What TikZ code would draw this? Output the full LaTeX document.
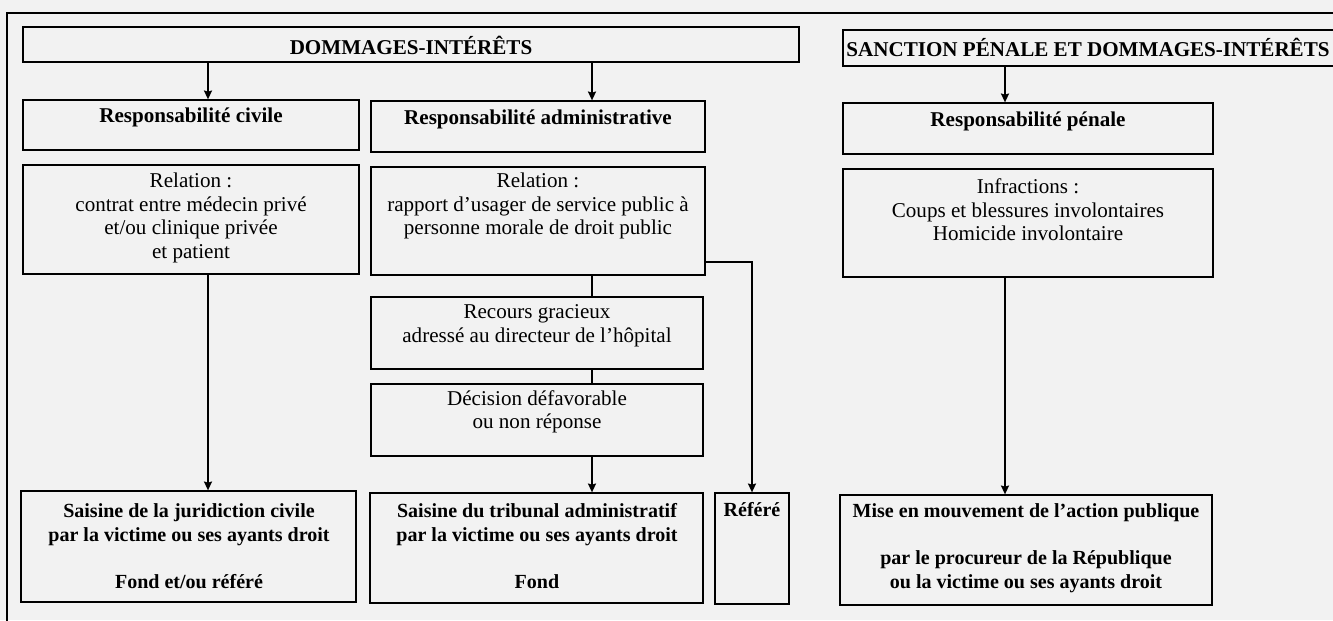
\documentclass[tikz,border=0pt]{standalone}
\usepackage{fontspec}
\setmainfont{Liberation Serif}
\usetikzlibrary{fit,arrows.meta}

\begin{document}
\begin{tikzpicture}[x=0.02cm, y=-0.02cm,
        box/.style={draw, line width=0.7pt, inner sep=0pt},
        txt/.style={align=center, inner sep=0pt, font=\fontsize{12}{13.4}\selectfont},
        head/.style={txt, font=\fontsize{12}{13.4}\selectfont\bfseries},
        seize/.style={txt, font=\fontsize{11.4}{13.4}\selectfont\bfseries},
        arr/.style={line width=1.3pt, -{Stealth[length=5pt, width=4.5pt, inset=0.6pt]}},
        link/.style={line width=0.9pt}]
        \useasboundingbox (0, 0) rectangle (1333, 620);
        \clip (0, 0) rectangle (1333, 620);
        \fill [black!5] (0, 0) rectangle (1333, 620);
        \draw [line width=0.7pt] (7, 640) -- (7, 13) -- (1350, 13);

        \node [box, fit={(23, 27) (799, 62)}] (dom) {};
        \node [box, fit={(843, 30) (1350, 66)}] (san) {};
        \node [box, fit={(23, 100) (359, 150)}] (civ) {};
        \node [box, fit={(371, 101) (705, 152)}] (adm) {};
        \node [box, fit={(843, 103) (1213, 154)}] (pen) {};
        \node [box, fit={(23, 165) (359, 274)}] (civrel) {};
        \node [box, fit={(371, 167) (705, 275)}] (admrel) {};
        \node [box, fit={(843, 169) (1213, 277)}] (infr) {};
        \node [box, fit={(371, 297) (703, 369)}] (recours) {};
        \node [box, fit={(371, 384) (703, 456)}] (decision) {};
        \node [box, fit={(21, 491) (356, 602)}] (saiciv) {};
        \node [box, fit={(370, 493) (703, 603)}] (saiadm) {};
        \node [box, fit={(715, 493) (789, 604)}] (refere) {};
        \node [box, fit={(840, 495) (1212, 605)}] (action) {};

        \node [head] (domtxt) at (411, 45) {DOMMAGES-INTÉRÊTS};
        \node [head] (santxt) at (1088, 47) {SANCTION PÉNALE ET DOMMAGES-INTÉRÊTS};
        \node [head] (civtxt) at (191, 117) {Responsabilité civile};
        \node [head] (admtxt) at (538, 119) {Responsabilité administrative};
        \node [head] (pentxt) at (1028, 121) {Responsabilité pénale};
        \node [txt] (civreltxt) at (191, 218) {Relation :\\contrat entre médecin privé\\et/ou clinique privée\\et patient};
        \node [txt] (admreltxt) at (538, 206) {Relation :\\rapport d’usager de service public à\\personne morale de droit public};
        \node [txt] (infrtxt) at (1028, 210) {Infractions :\\Coups et blessures involontaires\\Homicide involontaire};
        \node [txt] (recourstxt) at (537, 326) {Recours gracieux\\adressé au directeur de l’hôpital};
        \node [txt] (decisiontxt) at (537, 412) {Décision défavorable\\ou non réponse};
        \node [seize] (saicivtxt) at (189, 546) {Saisine de la juridiction civile\\par la victime ou ses ayants droit\\[13.4pt]Fond et/ou référé};
        \node [seize] (saiadmtxt) at (537, 546) {Saisine du tribunal administratif\\par la victime ou ses ayants droit\\[13.4pt]Fond};
        \node [seize] (referetxt) at (752, 510) {Référé};
        \node [seize] (actiontxt) at (1026, 548) {Mise en mouvement de l’action publique\\[13.4pt]par le procureur de la République\\ou la victime ou ses ayants droit};

        \coordinate (colciv) at (208, 0);
        \coordinate (coladm) at (592, 0);
        \coordinate (colref) at (752, 262);
        \coordinate (colpen) at (1005, 0);

        \draw [arr] (colciv |- dom.south) -- (colciv |- civ.north);
        \draw [arr] (coladm |- dom.south) -- (coladm |- adm.north);
        \draw [arr] (colpen |- san.south) -- (colpen |- pen.north);
        \draw [arr] (colciv |- civrel.south) -- (colciv |- saiciv.north);
        \draw [link] (coladm |- admrel.south) -- (coladm |- recours.north);
        \draw [link] (coladm |- recours.south) -- (coladm |- decision.north);
        \draw [arr] (coladm |- decision.south) -- (coladm |- saiadm.north);
        \draw [arr] (colref -| admrel.east) -- (colref) -- (colref |- refere.north);
        \draw [arr] (colpen |- infr.south) -- (colpen |- action.north);
    \end{tikzpicture}
\end{document}
